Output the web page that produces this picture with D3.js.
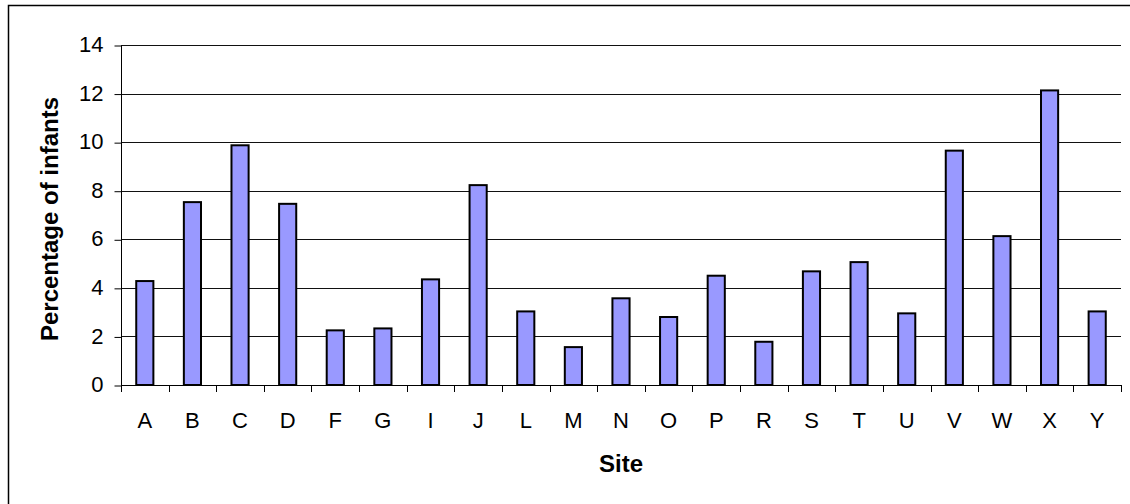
<!DOCTYPE html>
<html>
<head>
<meta charset="utf-8">
<script src="https://cdn.jsdelivr.net/npm/d3@7"></script>
<style>
  html, body { margin: 0; padding: 0; background: #fff; }
  svg { display: block; font-family: "Liberation Sans", Arial, sans-serif; }
</style>
</head>
<body>
<svg id="chart" width="1130" height="504"></svg>
<script>
const categories = ["A","B","C","D","F","G","I","J","L","M","N","O","P","R","S","T","U","V","W","X","Y"];
const values = [4.28, 7.53, 9.87, 7.46, 2.25, 2.33, 4.35, 8.23, 3.03, 1.56, 3.57, 2.80, 4.50, 1.78, 4.68, 5.06, 2.95, 9.65, 6.13, 12.13, 3.03];
const yTicks = [0, 2, 4, 6, 8, 10, 12, 14];
const xTitle = "Site";
const yTitle = "Percentage of infants";

(function () {
const svg = d3.select("#chart");
const pL = 121, pR = 1121, pT = 45, pB = 385;

svg.append("rect")
  .attr("x", 8.5).attr("y", 5.5)
  .attr("width", 1140).attr("height", 520)
  .attr("fill", "none").attr("stroke", "#000").attr("stroke-width", 1.5);

const x = d3.scaleBand().domain(categories).range([pL, pR])
  .paddingInner(0.64).paddingOuter(0.32);
const y = d3.scaleLinear().domain([0, 14]).range([pB, pT]);

svg.append("g").selectAll("line").data(yTicks.filter(d => d > 0)).join("line")
  .attr("x1", pL).attr("x2", pR)
  .attr("y1", d => Math.round(y(d)) + 0.5).attr("y2", d => Math.round(y(d)) + 0.5)
  .attr("stroke", "#111").attr("stroke-width", 1);

const yAxis = d3.axisLeft(y).tickValues(yTicks).tickSize(7).tickPadding(11).tickFormat(d3.format("d"));
const gy = svg.append("g").attr("transform", `translate(${pL + 0.5},0.5)`).call(yAxis);
gy.select(".domain").attr("stroke", "#000").attr("d", `M0,${pT}V${pB}`);
gy.selectAll(".tick line").attr("stroke", "#000");
gy.selectAll(".tick text").attr("font-size", 22).attr("fill", "#000")
  .attr("font-family", "Liberation Sans, Arial, sans-serif").attr("dy", "0.28em");

svg.append("g").selectAll("rect").data(values).join("rect")
  .attr("x", (d, i) => x(categories[i]))
  .attr("y", d => y(d))
  .attr("width", x.bandwidth())
  .attr("height", d => y(0) - y(d))
  .attr("fill", "#9999FF")
  .attr("stroke", "#000").attr("stroke-width", 2);

const step = x.step();
const boundaries = d3.range(categories.length + 1).map(i => pL + i * step);
svg.append("line").attr("x1", pL).attr("x2", pR).attr("y1", pB + 0.5).attr("y2", pB + 0.5)
  .attr("stroke", "#000");
svg.append("g").selectAll("line").data(boundaries).join("line")
  .attr("x1", d => Math.round(d) + 0.5).attr("x2", d => Math.round(d) + 0.5)
  .attr("y1", pB).attr("y2", pB + 7).attr("stroke", "#000");
const xAxis = d3.axisBottom(x).tickSize(0).tickPadding(0);
const gx = svg.append("g").attr("transform", `translate(0,${pB})`).call(xAxis);
gx.select(".domain").remove();
gx.selectAll(".tick text").attr("font-size", 22).attr("fill", "#000")
  .attr("font-family", "Liberation Sans, Arial, sans-serif")
  .attr("y", 43).attr("dy", 0);

svg.append("text").attr("x", (pL + pR) / 2).attr("y", 472)
  .attr("text-anchor", "middle").attr("font-size", 24).attr("font-weight", "bold").text(xTitle);
svg.append("text").attr("transform", `translate(58,${(pT + pB) / 2 + 4}) rotate(-90)`)
  .attr("text-anchor", "middle").attr("font-size", 24).attr("font-weight", "bold").text(yTitle);
})();
</script>
</body>
</html>
